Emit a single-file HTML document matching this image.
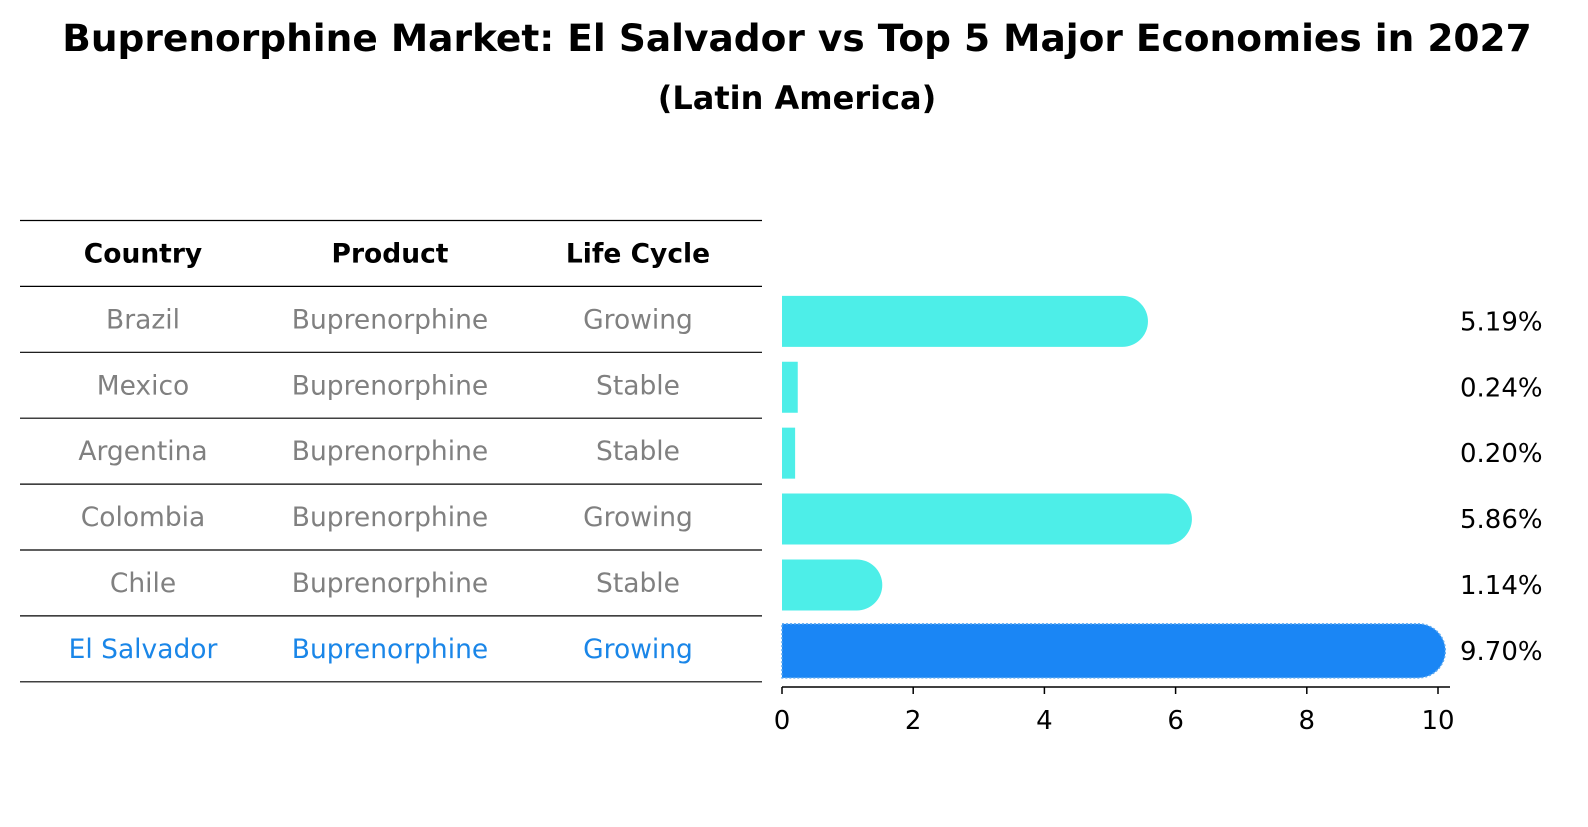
<!DOCTYPE html>
<html><head><meta charset="utf-8"><style>
body{margin:0;background:#fff;font-family:"DejaVu Sans","Liberation Sans",sans-serif}
svg text{font-family:"DejaVu Sans","Liberation Sans",sans-serif}
</style></head><body>
<svg id="c" width="1588" height="823">
<text x="797" y="51" font-size="37.5" font-weight="bold" text-anchor="middle">Buprenorphine Market: El Salvador vs Top 5 Major Economies in 2027</text>
<text x="797" y="109" font-size="32" font-weight="bold" text-anchor="middle">(Latin America)</text>
<g id="table"></g>
<g id="bars"></g>
</svg>
<script>
const countries=["Brazil","Mexico","Argentina","Colombia","Chile","El Salvador"];
const products=["Buprenorphine","Buprenorphine","Buprenorphine","Buprenorphine","Buprenorphine","Buprenorphine"];
const lifeCycle=["Growing","Stable","Stable","Growing","Stable","Growing"];
const values=[5.19,0.24,0.20,5.86,1.14,9.70];
const valueLabels=["5.19%","0.24%","0.20%","5.86%","1.14%","9.70%"];
const ticks=[0,2,4,6,8,10];
const NS="http://www.w3.org/2000/svg";
function mk(t,a,p,txt){const e=document.createElementNS(NS,t);for(const k in a)e.setAttribute(k,a[k]);if(txt!==undefined)e.textContent=txt;p.appendChild(e);return e;}
const tb=document.getElementById('table'),bg=document.getElementById('bars');
const rowH=65.9,top0=220.5,colX=[143,390,638];
for(let i=0;i<=countries.length+1;i++){const l=mk('line',{x1:20,x2:762,y1:top0+i*rowH,y2:top0+i*rowH,stroke:'#000','stroke-width':1.2},tb);}
["Country","Product","Life Cycle"].forEach((h,j)=>{const t=mk('text',{x:colX[j],y:top0+rowH/2+9,'font-size':26.5,'font-weight':'bold','text-anchor':'middle'},tb,h);});
const X=v=>782+v*65.6;
const rowC=i=>top0+rowH*(i+1.5);
countries.forEach((c,i)=>{
 const hl=i===countries.length-1,col=hl?'#1a86e8':'#808080';
 [c,products[i],lifeCycle[i]].forEach((s,j)=>{const t=mk('text',{x:colX[j],y:rowC(i)+9,'font-size':26.5,fill:col,'text-anchor':'middle'},tb,s);});
 const y=rowC(i)+2,h=hl?54:51,w=X(values[i])-X(0),fill=hl?'#1a86f5':'#4deee8';
 let b;
 if(values[i]>0.5){const r=h/2;b=mk('path',{d:`M${X(0)},${y-r}H${X(0)+w}A${r},${r} 0 0 1 ${X(0)+w},${y+r}H${X(0)}Z`,fill:fill},bg);}
 else b=mk('rect',{x:X(0),y:y-h/2,width:w,height:h,fill:fill},bg);
 if(hl){b.setAttribute('stroke','#5aa8f0');b.setAttribute('stroke-dasharray','2 2');b.setAttribute('stroke-width','1.5');}
 
 
 const t=mk('text',{x:1460,y:y+9,'font-size':26},bg,valueLabels[i]);
 
 
});
const ax=mk('line',{x1:X(0),x2:1450,y1:687,y2:687,stroke:'#000','stroke-width':1.5},bg);

ticks.forEach(v=>{const l=mk('line',{x1:X(v),x2:X(v),y1:687,y2:694,stroke:'#000','stroke-width':1.5},bg);
 const t=mk('text',{x:X(v),y:729,'font-size':26,'text-anchor':'middle'},bg,String(v));});
</script>
</body></html>
